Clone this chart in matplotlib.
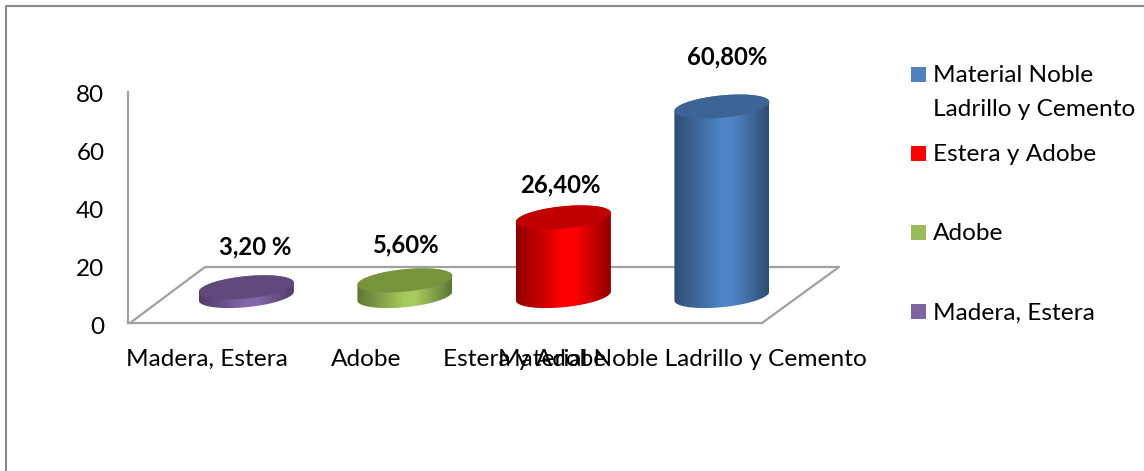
import numpy as np
import matplotlib
matplotlib.use("Agg")
import matplotlib.pyplot as plt
from matplotlib.colors import LinearSegmentedColormap
from matplotlib.lines import Line2D
from matplotlib.patches import PathPatch, Rectangle
from matplotlib.path import Path
from matplotlib.transforms import ScaledTranslation

categories = ["Madera, Estera", "Adobe", "Estera y Adobe", "Material Noble Ladrillo y Cemento"]
bar_heights = [3.0, 5.4, 27.2, 65.6]
value_labels = ["3,20 %", "5,60%", "26,40%", "60,80%"]
y_ticks = [0, 20, 40, 60, 80]
side_edge = ["#4f3c66", "#5f7535", "#8f0000", "#2f4d73"]
side_mid = ["#8567aa", "#a6cb5e", "#ff0000", "#4f84c6"]
cap_colors = ["#604a7b", "#77933c", "#c00000", "#3c6494"]
legend_colors = ["#4f81bd", "#ff0000", "#9bbb59", "#8064a2"]
legend_labels = ["Material Noble\nLadrillo y Cemento", "Estera y Adobe", "Adobe", "Madera, Estera"]

W, H = 1144, 471
plt.rcParams["font.family"] = ["Lato", "DejaVu Sans"]
fig = plt.figure(figsize=(W / 100, H / 100), dpi=100, facecolor="white")


def fx(px):
    return px / W


def fy(py):
    return 1 - py / H


ax = fig.add_axes([fx(128), fy(323), fx(762) - fx(128), fy(92) - fy(323)])
ax.set_xlim(-0.5, 3.5)
ax.set_ylim(0, 80)
ax.patch.set_alpha(0)
for s in ("top", "right"):
    ax.spines[s].set_visible(False)
GRAY = "#a0a0a0"
for s in ("left", "bottom"):
    ax.spines[s].set_color(GRAY)
    ax.spines[s].set_linewidth(1.6)
ax.set_yticks(y_ticks)
ax.set_xticks(range(len(categories)), categories)
ax.tick_params(axis="y", length=0, pad=17, labelsize=17.5, labelcolor="black")
ax.tick_params(axis="x", length=0, pad=18.5, labelsize=17.6, labelcolor="black")
down = ScaledTranslation(0, -2 / 100, fig.dpi_scale_trans)
for lab in ax.get_yticklabels():
    lab.set_transform(lab.get_transform() + down)

# Unit sizes of the pseudo-3D projection
xu = (762 - 128) / 4      # px per category
yu = (323 - 92) / 80      # px per value unit
depth = 9.35              # value units from the front edge to the bar base
floor_back = (323 - 267) / yu
dx_back = 77 / xu
x0, x1 = -0.5, 3.5
ax.plot([x0 + 2 / xu, x0 + dx_back, x1 + dx_back, x1],
        [0, floor_back, floor_back, 0], color=GRAY, lw=1.6, clip_on=False, zorder=1)

a = 47.5 / xu             # half width of a cylinder
b = 11.2 / yu             # half height of the ellipse
shear = 4.5 / yu          # tilt of the ellipse
offset = 0.247            # bars stand behind their category position


def ellipse(cx, cy, t):
    return np.column_stack([cx + a * np.cos(t), cy + b * np.sin(t) + shear * np.cos(t)])


for i, h in enumerate(bar_heights):
    cx = i + offset
    y0, y1 = depth, depth + h
    body = np.vstack([ellipse(cx, y0, np.linspace(np.pi, 2 * np.pi, 60)),
                      ellipse(cx, y1, np.linspace(0, np.pi, 60))])
    clip = PathPatch(Path(np.vstack([body, body[:1]]), closed=True), fc="none", ec="none",
                     transform=ax.transData, clip_on=False)
    ax.add_patch(clip)
    cmap = LinearSegmentedColormap.from_list(
        "c", [(0, side_edge[i]), (0.5, side_mid[i]), (0.62, side_mid[i]), (1, side_edge[i])])
    im = ax.imshow(np.linspace(0, 1, 256)[None, :], cmap=cmap, aspect="auto",
                   extent=[cx - a, cx + a, y0 - b - shear, y1 + b + shear],
                   zorder=3, interpolation="bilinear")
    im.set_clip_box(fig.bbox)
    im.set_clip_path(clip)
    top = ellipse(cx, y1, np.linspace(0, 2 * np.pi, 120))
    ax.add_patch(PathPatch(Path(top, closed=True), fc=cap_colors[i], ec="none", zorder=4, clip_on=False))
ax.set_xlim(-0.5, 3.5)
ax.set_ylim(0, 80)

# Value labels
label_x = [255, 405, 560, 727]
label_y = [247, 245, 185, 57]
for x, y, s in zip(label_x, label_y, value_labels):
    fig.text(fx(x), fy(y), s, ha="center", va="center", fontsize=17.2, fontweight="bold", color="black")

# Legend
square_y = [67, 146, 225, 304]
for y, c, s in zip(square_y, legend_colors, legend_labels):
    fig.add_artist(Rectangle((fx(911), fy(y + 15)), 15 / W, 15 / H, transform=fig.transFigure, fc=c, ec="none"))
    lines = s.split("\n")
    for k, line in enumerate(lines):
        fig.text(fx(933), fy(y + 9 + k * 33), line, ha="left", va="center", fontsize=17.6, color="black")

# Outer frame
FR = "#8a8a8a"
fig.add_artist(Line2D([fx(5.5), fx(5.5), 1], [0, fy(5.5), fy(5.5)], transform=fig.transFigure, color=FR, lw=1.5))

fig.savefig("out.png", dpi=100)
